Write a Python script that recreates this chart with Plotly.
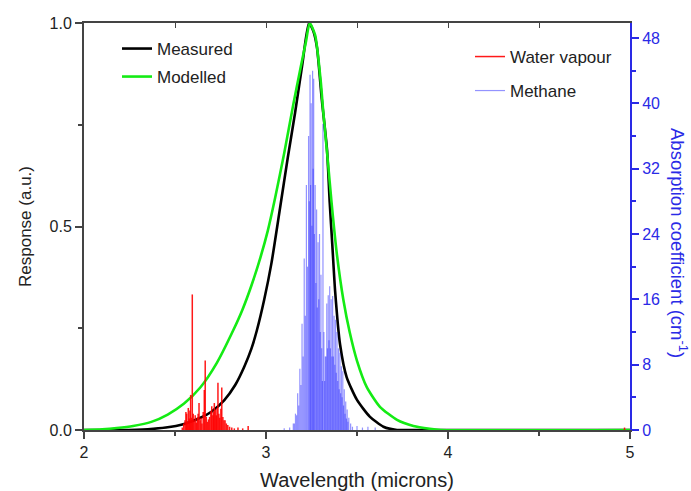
import plotly.graph_objects as go

# ---- Data ----
measured_wl = [2.0, 2.2, 2.35, 2.45, 2.55, 2.64, 2.70, 2.77, 2.83, 2.88, 2.92, 2.95, 2.99, 3.03, 3.077,
               3.12, 3.16, 3.20, 3.236, 3.26, 3.28, 3.306, 3.335, 3.35, 3.365, 3.38, 3.407, 3.443, 3.50,
               3.57, 3.645, 3.72, 3.80, 5.0]
measured_val = [0.0, 0.0, 0.002, 0.006, 0.015, 0.03, 0.045, 0.073, 0.11, 0.155, 0.2, 0.245, 0.32, 0.41, 0.545,
                0.67, 0.78, 0.90, 1.0, 0.98, 0.94, 0.815, 0.69, 0.56, 0.45, 0.34, 0.21, 0.13, 0.074,
                0.033, 0.008, 0.0, 0.0, 0.0]

modelled_wl = [2.0, 2.1, 2.18, 2.27, 2.37, 2.46, 2.55, 2.64, 2.73, 2.82, 2.87, 2.92, 2.97, 3.01, 3.05,
               3.10, 3.15, 3.19, 3.22, 3.24, 3.27, 3.30, 3.315, 3.34, 3.36, 3.39, 3.425, 3.46, 3.50,
               3.553, 3.626, 3.72, 3.81, 3.90, 3.96, 5.0]
modelled_val = [0.0, 0.002, 0.005, 0.01, 0.02, 0.038, 0.065, 0.105, 0.165, 0.245, 0.295, 0.355, 0.425, 0.49, 0.57,
                0.68, 0.80, 0.89, 0.955, 1.0, 0.97, 0.86, 0.78, 0.66, 0.56, 0.43, 0.32, 0.24, 0.17,
                0.106, 0.057, 0.025, 0.01, 0.003, 0.0, 0.0]

water_wl = [2.540, 2.548, 2.555, 2.560, 2.564, 2.568, 2.573, 2.578, 2.582, 2.586, 2.591, 2.595, 2.600, 2.605,
            2.611, 2.617, 2.622, 2.627, 2.632, 2.638, 2.643, 2.648, 2.655, 2.661, 2.666, 2.672, 2.678, 2.684,
            2.690, 2.697, 2.702, 2.708, 2.712, 2.716, 2.722, 2.727, 2.731, 2.736, 2.741, 2.746, 2.752, 2.757,
            2.763, 2.769, 2.775, 2.782, 2.790, 2.800, 2.812, 2.826, 2.846, 2.872, 2.902, 4.970]
water_abs = [0.3, 0.8, 1.2, 2.2, 2.0, 1.0, 2.7, 1.4, 2.4, 4.3, 1.5, 16.6, 2.0, 1.2,
             1.8, 0.9, 1.5, 2.0, 3.3, 1.2, 1.5, 0.8, 2.2, 4.9, 8.5, 1.6, 1.0, 1.3,
             1.6, 2.3, 2.9, 1.8, 2.2, 3.3, 2.5, 1.8, 2.7, 5.8, 2.0, 1.5, 2.6, 5.2,
             1.6, 1.2, 1.2, 0.8, 0.6, 0.4, 0.3, 0.2, 0.3, 0.2, 0.5, 0.3]

methane_wl = [3.100, 3.130, 3.150, 3.156, 3.162, 3.168, 3.174, 3.180, 3.186, 3.192, 3.198, 3.204, 3.210,
              3.216, 3.222, 3.228, 3.234, 3.238, 3.242, 3.245, 3.248, 3.252, 3.256, 3.259, 3.262, 3.266,
              3.270, 3.274, 3.278, 3.282, 3.286, 3.290, 3.294, 3.298, 3.302, 3.306, 3.310, 3.313, 3.318,
              3.322, 3.326, 3.330, 3.334, 3.338, 3.342, 3.346, 3.350, 3.354, 3.358, 3.362, 3.366, 3.370,
              3.374, 3.378, 3.382, 3.386, 3.390, 3.394, 3.398, 3.402, 3.406, 3.410, 3.414, 3.418, 3.422,
              3.426, 3.430, 3.434, 3.438, 3.442, 3.446, 3.450, 3.455, 3.465, 3.475, 3.500, 3.530, 3.560,
              3.600]
methane_abs = [0.2, 0.3, 0.8, 0.8, 2.0, 1.8, 4.5, 3.0, 7.5, 5.5, 13, 9, 21,
               14, 30, 20, 36, 28, 43.5, 30, 40, 25, 44, 32, 43, 24,
               30, 18, 27, 15, 23, 16, 24, 12, 19, 10, 6, 37.5, 12,
               6, 9, 9, 15.5, 10, 16.5, 11, 17.6, 10, 16, 9, 16.4, 9,
               14, 8, 13.5, 7, 12, 6, 10, 5, 9.5, 4.5, 7.8, 4, 7.2,
               3, 5, 2, 3.5, 1.4, 2.5, 1.0, 1.5, 0.8, 0.4, 0.5, 0.3, 0.4,
               0.3]

x_ticks = [2, 3, 4, 5]
y_ticks = [0.0, 0.5, 1.0]
y2_ticks = [0, 8, 16, 24, 32, 40, 48]


def sticks(xs, ys):
    sx, sy = [], []
    for x, y in zip(xs, ys):
        sx += [x, x, None]
        sy += [0, y, None]
    return sx, sy


FONT = "Liberation Sans, Arial, sans-serif"
BLUE = "#2a2ae6"

fig = go.Figure()

wx, wy = sticks(water_wl, water_abs)
fig.add_trace(go.Scatter(x=wx, y=wy, mode="lines", yaxis="y2", name="Water vapour",
                         line=dict(color="rgba(255,0,0,0.9)", width=1.5), legend="legend3"))
mx, my = sticks(methane_wl, methane_abs)
fig.add_trace(go.Scatter(x=mx, y=my, mode="lines", yaxis="y2", name="Methane",
                         line=dict(color="rgba(40,40,255,0.5)", width=1.2), legend="legend4"))
fig.add_trace(go.Scatter(x=measured_wl, y=measured_val, mode="lines", name="Measured",
                         line=dict(color="black", width=2.6, shape="spline", smoothing=0.6), legend="legend"))
fig.add_trace(go.Scatter(x=modelled_wl, y=modelled_val, mode="lines", name="Modelled",
                         line=dict(color="rgb(20,235,20)", width=2.6, shape="spline", smoothing=0.6),
                         legend="legend2"))
# empty trace to activate the top (mirror) axis
fig.add_trace(go.Scatter(x=[], y=[], xaxis="x2", showlegend=False, hoverinfo="skip"))

W, H = 691, 491
L, R, T, B = 84, 61, 23, 61
pw, ph = W - L - R, H - T - B


def px(xp):
    return (xp - L) / pw


def py(yp):
    return (H - B - yp) / ph


def leg(xp, yp):
    return dict(x=px(xp), y=py(yp), xanchor="left", yanchor="middle",
                bgcolor="rgba(0,0,0,0)", font=dict(family=FONT, size=17, color="#222"))


axis_col = "#444"
fig.update_layout(
    width=W, height=H,
    margin=dict(l=L, r=R, t=T, b=B, autoexpand=False),
    paper_bgcolor="white", plot_bgcolor="white",
    showlegend=True,
    font=dict(family=FONT, color="#222"),
    xaxis=dict(range=[2, 5], tickvals=x_ticks, ticks="outside", ticklen=7, tickwidth=1.5,
               tickcolor=axis_col, showline=True, linewidth=2, linecolor=axis_col,
               showgrid=False, zeroline=False, tickfont=dict(size=16, color="#222"),
               automargin=False,
               minor=dict(dtick=0.5, tick0=2, ticks="outside", ticklen=4, tickcolor=axis_col, showgrid=False),
               title=dict(text="Wavelength (microns)", font=dict(size=20), standoff=20)),
    xaxis2=dict(range=[2, 5], overlaying="x", side="top", tickvals=[2.5, 3, 3.5, 4, 4.5],
                ticks="inside", ticklen=5, tickcolor=axis_col, showticklabels=False, showline=True,
                linewidth=1.5, linecolor=axis_col, showgrid=False, zeroline=False, automargin=False),
    yaxis=dict(range=[0, 1], tickvals=y_ticks, tickformat=".1f", ticks="outside", ticklen=7,
               tickwidth=1.5, tickcolor=axis_col, showline=True, linewidth=2, linecolor=axis_col,
               showgrid=False, zeroline=False, tickfont=dict(size=16, color="#222"), automargin=False,
               minor=dict(dtick=0.25, tick0=0, ticks="outside", ticklen=4, tickcolor=axis_col, showgrid=False),
               title=dict(text="Response (a.u.)", font=dict(size=17), standoff=14)),
    yaxis2=dict(range=[0, 49.84], overlaying="y", side="right", tickvals=y2_ticks, ticks="outside",
                ticklen=7, tickwidth=1.5, tickcolor=BLUE, showline=True, linewidth=2, linecolor=BLUE,
                showgrid=False, zeroline=False, tickfont=dict(size=16, color=BLUE), automargin=False,
                minor=dict(dtick=4, tick0=0, ticks="outside", ticklen=4, tickcolor=BLUE, showgrid=False)),
    legend=leg(117, 49),
    legend2=leg(117, 77),
    legend3=leg(470, 57),
    legend4=leg(470, 91),
    annotations=[dict(text="Absorption coefficient (cm<sup>-1</sup>)", textangle=90,
                      x=px(679), y=py(243), xref="paper", yref="paper", showarrow=False,
                      xanchor="center", yanchor="middle",
                      font=dict(family=FONT, size=18.5, color=BLUE))],
)

fig.write_html("out.html")
